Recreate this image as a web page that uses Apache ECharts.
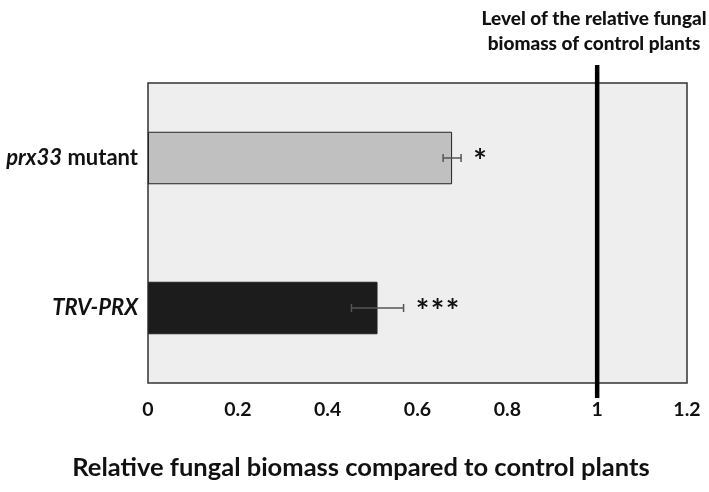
<!DOCTYPE html>
<html>
<head>
<meta charset="utf-8">
<script src="https://cdn.jsdelivr.net/npm/echarts@6/dist/echarts.min.js"></script>
<style>html,body{margin:0;padding:0;background:#fff;}#c{width:709px;height:492px;}</style>
</head>
<body>
<div id="c"></div>
<script>
// ---- data ----
var categories = ['prx33 mutant', 'TRV-PRX'];
var catItalic = ['prx33', 'TRV-PRX'];
var catPlain = [' mutant', ''];
var means = [0.677, 0.511];
var errors = [0.02, 0.058];
var signif = ['*', '***'];
var referenceLevel = 1;
var xTicks = [0, 0.2, 0.4, 0.6, 0.8, 1, 1.2];
var refTitle = 'Level of the relative fungal\nbiomass of control plants';
var xTitle = 'Relative fungal biomass compared to control plants';

var FONT = 'Lato, "Open Sans", sans-serif';
var barColors = ['#c0c0c0', '#1c1c1c'];

var chart = echarts.init(document.getElementById('c'));
var errData = means.map(function (m, i) { return [m, i, errors[i]]; });

chart.setOption({
  animation: false,
  backgroundColor: '#ffffff',
  title: [
    { text: refTitle, left: 589, top: 1, textAlign: 'center',
      textStyle: { fontFamily: FONT, fontSize: 19, fontWeight: 900, color: '#111', lineHeight: 25 } },
    { text: xTitle, left: 356, top: 450, textAlign: 'center',
      textStyle: { fontFamily: FONT, fontSize: 25.5, fontWeight: 'bold', color: '#111' } }
  ],
  grid: { left: 148, right: 22, top: 83, bottom: 109, show: true,
          backgroundColor: '#eeeeee', borderColor: '#333', borderWidth: 1.5 },
  xAxis: {
    type: 'value', min: xTicks[0], max: xTicks[xTicks.length - 1], interval: 0.2,
    axisLine: { show: false }, axisTick: { show: false }, splitLine: { show: false },
    axisLabel: { fontFamily: FONT, fontSize: 19.5, fontWeight: 'bold', color: '#111', margin: 17 }
  },
  yAxis: {
    type: 'category', data: categories, inverse: true,
    axisLine: { show: false }, axisTick: { show: false },
    axisLabel: {
      margin: 10,
      formatter: function (v) {
        var idx = categories.indexOf(v);
        return '{i|' + catItalic[idx] + '}' + (catPlain[idx] ? '{b|' + catPlain[idx] + '}' : '');
      },
      rich: {
        i: { fontFamily: FONT, fontSize: 22, fontWeight: 'bold', fontStyle: 'italic', color: '#111' },
        b: { fontFamily: FONT, fontSize: 22, fontWeight: 'bold', color: '#111' }
      }
    }
  },
  series: [
    {
      type: 'bar', barWidth: '35%',
      data: means.map(function (m, i) {
        return { value: m, itemStyle: { color: barColors[i] } };
      }),
      itemStyle: { borderColor: '#222', borderWidth: 1 }
    },
    {
      type: 'custom', z: 5,
      data: errData,
      renderItem: function (params, api) {
        var m = api.value(0), i = api.value(1), e = api.value(2);
        var lo = api.coord([m - e, i]);
        var hi = api.coord([m + e, i]);
        var y = lo[1], cap = 4;
        var st = { stroke: '#555', lineWidth: 1.5 };
        var kids = [
          { type: 'line', shape: { x1: lo[0], y1: y, x2: hi[0], y2: y }, style: st },
          { type: 'line', shape: { x1: lo[0], y1: y - cap, x2: lo[0], y2: y + cap }, style: st },
          { type: 'line', shape: { x1: hi[0], y1: y - cap, x2: hi[0], y2: y + cap }, style: st }
        ];
        var s = signif[i];
        for (var k = 0; k < s.length; k++) {
          kids.push({ type: 'text', x: hi[0] + 19 + k * 15, y: y + 5,
            style: { text: s.charAt(k), fontFamily: FONT, fontSize: 32, fontWeight: 'bold',
                     fill: '#111', align: 'center', verticalAlign: 'middle' } });
        }
        return { type: 'group', children: kids };
      }
    },
    {
      type: 'custom', z: 6, clip: false,
      data: [[referenceLevel]],
      renderItem: function (params, api) {
        var x = api.coord([api.value(0), 0])[0];
        var cs = params.coordSys;
        return { type: 'line',
                 shape: { x1: x, y1: cs.y - 18, x2: x, y2: cs.y + cs.height + 15 },
                 style: { stroke: '#000', lineWidth: 4.5 } };
      }
    }
  ]
});
</script>
</body>
</html>
